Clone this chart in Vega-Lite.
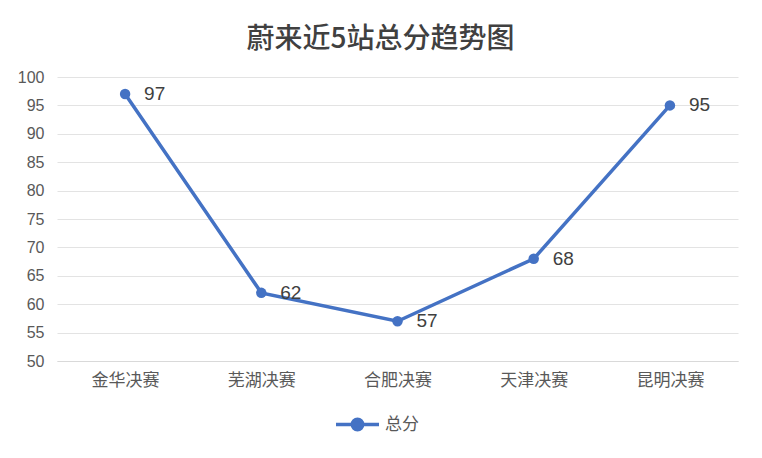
{
  "$schema": "https://vega.github.io/schema/vega-lite/v6.json",
  "autosize": {"type": "none"},
  "width": 681,
  "height": 284,
  "padding": {"left": 57, "top": 77, "right": 24, "bottom": 97},
  "background": "white",
  "title": {
    "text": "蔚来近5站总分趋势图",
    "anchor": "middle",
    "offset": 15,
    "dx": -17,
    "fontSize": 28,
    "fontWeight": 500,
    "font": "Noto Sans CJK SC",
    "color": "#404040"
  },
  "data": {
    "values": [
      {"站": "金华决赛", "总分": 97, "系列": "总分"},
      {"站": "芜湖决赛", "总分": 62, "系列": "总分"},
      {"站": "合肥决赛", "总分": 57, "系列": "总分"},
      {"站": "天津决赛", "总分": 68, "系列": "总分"},
      {"站": "昆明决赛", "总分": 95, "系列": "总分"}
    ]
  },
  "encoding": {
    "x": {
      "field": "站",
      "type": "nominal",
      "sort": null,
      "title": null,
      "scale": {"paddingInner": 0, "paddingOuter": 0},
      "axis": {
        "labelAngle": 0,
        "labelFontSize": 17,
        "labelColor": "#595959",
        "labelFont": "Noto Sans CJK SC",
        "labelPadding": 11,
        "domainColor": "#d9d9d9",
        "ticks": false
      }
    },
    "y": {
      "field": "总分",
      "type": "quantitative",
      "title": null,
      "scale": {"domain": [50, 100], "nice": false, "zero": false},
      "axis": {
        "values": [50, 55, 60, 65, 70, 75, 80, 85, 90, 95, 100],
        "labelFontSize": 16,
        "labelColor": "#595959",
        "labelFont": "Liberation Sans",
        "labelPadding": 13,
        "gridColor": "#e3e3e3",
        "domain": false,
        "ticks": false
      }
    }
  },
  "layer": [
    {
      "mark": {"type": "line", "strokeWidth": 3.5, "color": "#4472C4"},
      "encoding": {
        "color": {
          "field": "系列",
          "type": "nominal",
          "scale": {"range": ["#4472C4"]},
          "legend": {
            "title": null,
            "orient": "none",
            "legendX": 277,
            "legendY": 324,
            "labelFontSize": 17,
            "labelColor": "#595959",
            "labelFont": "Noto Sans CJK SC",
            "symbolType": "M-1,0L1,0M0.24,0A0.24,0.24 0 1,1 -0.24,0A0.24,0.24 0 1,1 0.24,0Z",
            "symbolSize": 1850,
            "symbolStrokeWidth": 3.5,
            "symbolFillColor": "#4472C4",
            "symbolStrokeColor": "#4472C4",
            "labelOffset": 4
          }
        }
      }
    },
    {
      "mark": {"type": "point", "filled": true, "size": 110, "opacity": 1, "color": "#4472C4"}
    },
    {
      "mark": {"type": "text", "align": "left", "dx": 19, "fontSize": 19, "color": "#404040", "font": "Liberation Sans"},
      "encoding": {"text": {"field": "总分", "type": "quantitative"}}
    }
  ],
  "config": {"view": {"stroke": null}}
}
